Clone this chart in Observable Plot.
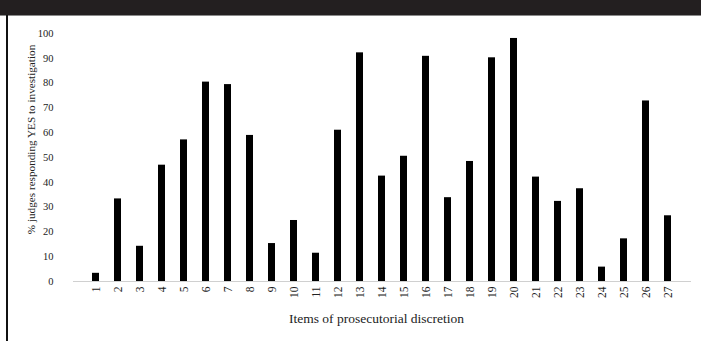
<!DOCTYPE html>
<html>
<head>
<meta charset="utf-8">
<script src="https://cdn.jsdelivr.net/npm/d3@7"></script>
<script src="https://cdn.jsdelivr.net/npm/@observablehq/plot@0.6"></script>
<style>
  html, body { margin: 0; padding: 0; background: #fff; }
  #wrap { position: relative; width: 701px; height: 341px; overflow: hidden; }
  #topbar { position: absolute; left: 0; top: 0; width: 701px; height: 15px; background: #231f20; border-bottom: 1px solid #8a8a8a; }
  #leftline { position: absolute; left: 6px; top: 15px; width: 2px; height: 326px; background: #111; }
  #chart { position: absolute; left: 0; top: 0; }
</style>
</head>
<body>
<div id="wrap">
  <div id="chart"></div>
  <div id="topbar"></div>
  <div id="leftline"></div>
</div>
<script>
const items = ["1","2","3","4","5","6","7","8","9","10","11","12","13","14","15","16","17","18","19","20","21","22","23","24","25","26","27"];
const percentYes = [3.3, 33.3, 14.2, 46.9, 57.1, 80.4, 79.4, 58.9, 15.3, 24.6, 11.4, 61, 92.2, 42.5, 50.5, 90.8, 33.8, 48.4, 90.2, 98, 42.1, 32.3, 37.4, 5.8, 17.2, 72.8, 26.5];
const yTicks = [0, 10, 20, 30, 40, 50, 60, 70, 80, 90, 100];

const data = items.map((d, i) => ({item: d, value: percentYes[i]}));

const chart = Plot.plot({
  width: 701,
  height: 341,
  marginTop: 33,
  marginBottom: 60,
  marginLeft: 73,
  marginRight: 10,
  style: {fontFamily: "'Liberation Serif', 'Times New Roman', serif", color: "#222", background: "transparent"},
  x: {domain: items, paddingInner: 0.67, paddingOuter: 0.33, label: null},
  y: {domain: [0, 100], label: null},
  marks: [
    Plot.ruleY([0], {stroke: "#d0d0d0", strokeWidth: 1}),
    Plot.barY(data, {x: "item", y: "value", fill: "#000"}),
    Plot.axisY({ticks: yTicks, tickSize: 0, tickPadding: 20, fontSize: 10.5, label: null}),
    Plot.axisX({tickSize: 0, tickPadding: 5, tickRotate: -90, fontSize: 11.5, label: null}),
    Plot.text(["% judges responding YES to investigation"], {frameAnchor: "left", textAnchor: "middle", dx: -42, dy: -18, rotate: -90, fontSize: 11.2, fill: "#222"}),
    Plot.text(["Items of prosecutorial discretion"], {frameAnchor: "bottom", textAnchor: "middle", dx: -6, dy: 41, fontSize: 13.5, fill: "#222"})
  ]
});
document.getElementById("chart").appendChild(chart);
</script>
</body>
</html>
